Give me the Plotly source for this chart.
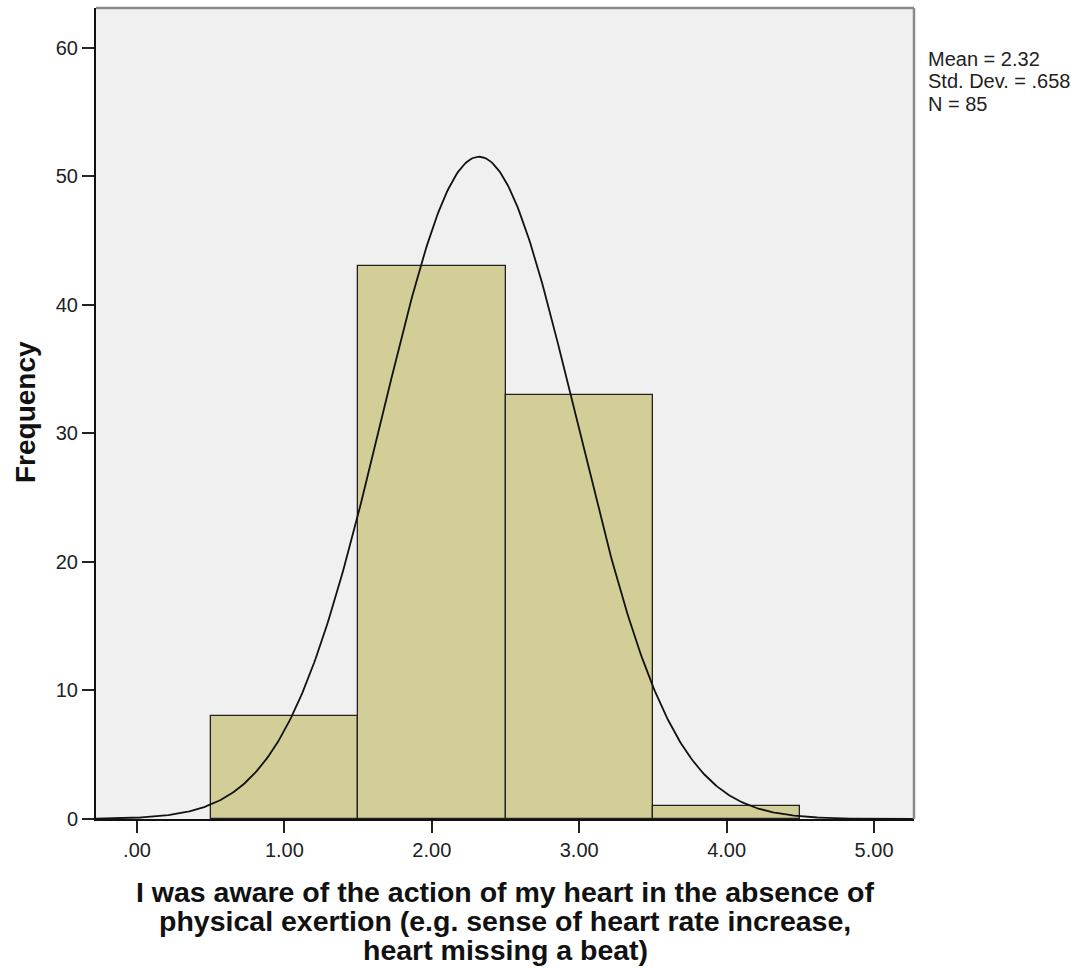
import numpy as np
import plotly.graph_objects as go

# Data
bin_centers = [1.0, 2.0, 3.0, 4.0]
counts = [8, 43, 33, 1]
bin_width = 1.0
mean_val = 2.32
std_val = 0.658
n_val = 85
x_tickvals = [0, 1, 2, 3, 4, 5]
x_ticktext = [".00", "1.00", "2.00", "3.00", "4.00", "5.00"]
y_tickvals = [0, 10, 20, 30, 40, 50, 60]
stats_lines = ["Mean = 2.32", "Std. Dev. = .658", "N = 85"]
x_title_lines = [
    "I was aware of the action of my heart in the absence of",
    "physical exertion (e.g. sense of heart rate increase,",
    "heart missing a beat)",
]

X_RANGE = [-0.278, 5.271]
Y_RANGE = [0, 63.11]

# Normal curve from stated statistics
xs = np.linspace(X_RANGE[0], X_RANGE[1], 500)
ys = n_val * bin_width / (std_val * np.sqrt(2 * np.pi)) * np.exp(-0.5 * ((xs - mean_val) / std_val) ** 2)

W, H = 1086, 970
L, R, T, B = 96, 172, 8, 151
PH = H - T - B
PW = W - L - R

fig = go.Figure()
fig.add_trace(go.Bar(
    x=bin_centers, y=counts, width=[bin_width] * len(bin_centers),
    marker=dict(color="#d3ce97", line=dict(color="#222222", width=1.3)),
    hoverinfo="skip"
))
fig.add_trace(go.Scatter(
    x=xs, y=ys, mode="lines", line=dict(color="#111111", width=1.8), hoverinfo="skip"
))

fig.update_layout(
    width=W, height=H,
    margin=dict(l=L, r=R, t=T, b=B, pad=0),
    paper_bgcolor="white", plot_bgcolor="#f0f0f0",
    showlegend=False, bargap=0,
    font=dict(family="Liberation Sans, Arial, sans-serif", color="#222222", size=21),
)
fig.update_xaxes(
    range=X_RANGE, tickvals=x_tickvals, ticktext=x_ticktext,
    ticks="outside", ticklen=12, tickwidth=2, tickcolor="#222222",
    showline=True, linecolor="#111111", linewidth=2, mirror=False,
    showgrid=False, zeroline=False, tickfont=dict(size=20),
)
fig.update_yaxes(
    range=Y_RANGE, tickvals=y_tickvals,
    ticks="outside", ticklen=12, tickwidth=2, tickcolor="#222222",
    showline=True, linecolor="#111111", linewidth=2,
    showgrid=False, zeroline=False, tickfont=dict(size=20),
)
# gray top/right frame
fig.add_shape(type="line", xref="paper", yref="paper", x0=0, x1=1, y0=1, y1=1,
              line=dict(color="#8a8a8a", width=2.5))
fig.add_shape(type="line", xref="paper", yref="paper", x0=1, x1=1, y0=0, y1=1,
              line=dict(color="#8a8a8a", width=2.5))

def py(yfig):
    return (H - B - yfig) / PH

def px(xfig):
    return (xfig - L) / PW

for i, s in enumerate(stats_lines):
    fig.add_annotation(
        xref="paper", yref="paper", x=px(927), y=py(59 + 22.5 * i),
        xanchor="left", yanchor="middle", text=s, showarrow=False, borderpad=0,
        font=dict(size=20, color="#222222")
    )

for i, s in enumerate(x_title_lines):
    fig.add_annotation(
        xref="paper", yref="paper", x=0.5, y=py(892 + 29 * i),
        xanchor="center", yanchor="middle", text=f"<b>{s}</b>", showarrow=False,
        borderpad=0, font=dict(size=28.5, color="#111111")
    )

fig.add_annotation(
    xref="paper", yref="paper", x=px(25), y=py(412),
    xanchor="center", yanchor="middle", textangle=-90,
    text="<b>Frequency</b>", showarrow=False, font=dict(size=28, color="#111111")
)

fig.write_html(
    "out.html",
    config={"displayModeBar": False},
    post_script="document.body.style.margin='0';document.body.style.overflow='hidden';",
)
